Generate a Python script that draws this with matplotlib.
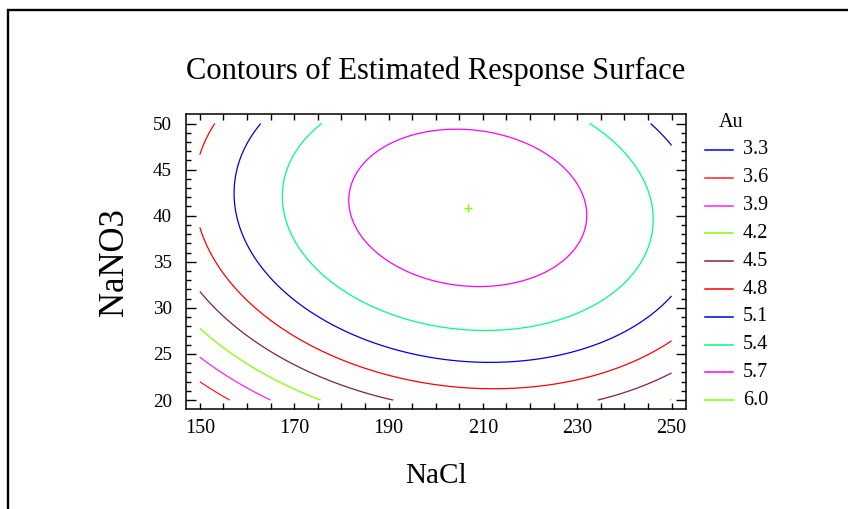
import numpy as np
import matplotlib
matplotlib.use('Agg')
import matplotlib.pyplot as plt
from matplotlib.lines import Line2D
from matplotlib.patches import Rectangle

# ---- data: fitted quadratic response surface (parameters) ----
nacl_range = [150, 250]          # design range of NaCl
nano3_range = [20, 50]           # design range of NaNO3
optimum_nacl = 206.8             # location of estimated optimum
optimum_nano3 = 40.85
optimum_au = 5.91                # estimated response at optimum
curv_nacl = 0.000333             # curvature along NaCl
curv_nano3 = 0.00291             # curvature along NaNO3
interaction = -0.000187          # NaCl x NaNO3 interaction

levels = [3.3, 3.6, 3.9, 4.2, 4.5, 4.8, 5.1, 5.4, 5.7, 6.0]
level_labels = ['3.3', '3.6', '3.9', '4.2', '4.5', '4.8', '5.1', '5.4', '5.7', '6.0']
level_colors = ['#0000ff', '#ff2020', '#ff20ff', '#80ff00', '#802050',
                '#ff0000', '#0000dd', '#00ff80', '#ff00ff', '#80ff00']
xticks = [150, 170, 190, 210, 230, 250]
yticks = [20, 25, 30, 35, 40, 45, 50]

plt.rcParams['font.family'] = ['Liberation Serif', 'DejaVu Serif']

W, H = 848, 509
fig = plt.figure(figsize=(W / 100, H / 100), dpi=100)
ax = fig.add_axes([185.7 / W, 1 - 409.3 / H, 500 / W, 295 / H])

x = np.linspace(nacl_range[0], nacl_range[1], 1001)
y = np.linspace(nano3_range[0], nano3_range[1], 901)
X, Y = np.meshgrid(x, y)
dx = X - optimum_nacl
dy = Y - optimum_nano3
Z = optimum_au - curv_nacl * dx ** 2 - curv_nano3 * dy ** 2 + interaction * dx * dy

ax.contour(X, Y, Z, levels=levels, colors=level_colors, linewidths=0.9)
ax.plot([optimum_nacl], [optimum_nano3], marker='+', color='#80ff00',
        markersize=6, markeredgewidth=1.0, linestyle='none')

ax.set_xlim(147, 253)
ax.set_ylim(19, 51)

ax.set_xticks(xticks)
ax.set_xticks(np.arange(150, 251, 5), minor=True)
ax.set_yticks(yticks)
ax.set_yticks(np.arange(20, 51, 1), minor=True)

for s in ax.spines.values():
    s.set_linewidth(1.1)

ax.tick_params(axis='x', which='both', direction='in', length=4.5, width=1.0,
               top=True, bottom=True, labelsize=14.5, pad=7)
ax.tick_params(axis='y', which='major', direction='in', length=7.2, width=1.0,
               left=True, right=True, labelsize=13.8, pad=10)
ax.tick_params(axis='y', which='minor', direction='in', length=3.6, width=1.0,
               left=True, right=True)

ax.set_xlabel('NaCl', fontsize=21)
ax.xaxis.set_label_coords((436.5 - 185.7) / 500, (409.3 - 482.7) / 295)
ax.xaxis.label.set_va('baseline')
ax.set_ylabel('NaNO3', fontsize=25)
ax.yaxis.set_label_coords((123 - 185.7) / 500, (409.3 - 262.5) / 295)
ax.yaxis.label.set_va('baseline')

fig.text(436 / W, 1 - 79 / H, 'Contours of Estimated Response Surface',
         ha='center', va='baseline', fontsize=22)

# legend (manual, to match reference placement)
fig.text(719 / W, 1 - 122.2 / H, 'Au', ha='left', va='center', fontsize=14.5)
for i, (lab, col) in enumerate(zip(level_labels, level_colors)):
    yc = 1 - (150 + i * 27.8) / H
    fig.add_artist(Line2D([705 / W, 733 / W], [yc, yc], transform=fig.transFigure,
                          color=col, linewidth=1.1))
    fig.text(743 / W, yc, lab, ha='left', va='center', fontsize=14.5)

# outer frame (cropped on right and bottom in the reference)
fig.add_artist(Rectangle((8 / W, -0.1), 1.2, (1 - 10 / H) + 0.1,
                         transform=fig.transFigure, fill=False,
                         edgecolor='black', linewidth=1.7, clip_on=False))

fig.savefig('out.png', dpi=100)
